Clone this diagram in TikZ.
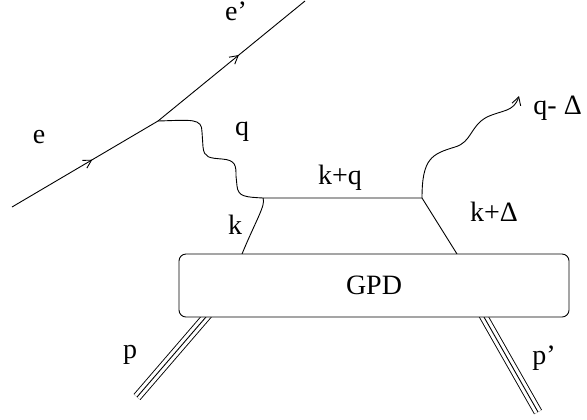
\documentclass[tikz,border=0pt]{standalone}
\usepackage{fontspec}
\setmainfont{Liberation Serif}
\usetikzlibrary{arrows.meta}
\usetikzlibrary{decorations.markings}

\begin{document}
\begin{tikzpicture}[x=0.5pt,y=-0.5pt,line width=0.45pt,line join=round,
  lbl/.style={font=\fontsize{14}{17}\selectfont,inner sep=0pt},
  fermion/.style={postaction={decorate},decoration={markings,mark=at position 0.55 with {\arrow{Straight Barb[length=4pt,width=4.5pt]}}}},
  photon/.style={-{Straight Barb[length=4pt,width=4.5pt]}},
  hadron/.style={double distance=3.6pt},
  gpdbox/.style={draw,fill=white,rounded corners=3.5pt,minimum width=195pt,minimum height=31.5pt,font=\fontsize{14}{17}\selectfont}]
\useasboundingbox (0,0) rectangle (587,419);
% the lepton line, scattered at the vertex
\coordinate (ein) at (12,207); \coordinate (ev) at (158,121); \coordinate (eout) at (305,1);
\draw[fermion] (ein) -- (ev); \draw[fermion] (ev) -- (eout);
% the quark rungs above the blob
\coordinate (qa) at (263,198); \coordinate (qb) at (422,198);
\coordinate (ka) at (242,254); \coordinate (kb) at (457,254);
\draw (ka) .. controls (256,220) and (266,205) .. (qa) -- (qb) -- (kb);
% virtual photon q, a wiggle from the vertex down to the quark
\draw (ev) .. controls (192,120) and (202,118) .. (202,132) -- (203,147) .. controls (204,158) and (210,158) .. (222,159)
  .. controls (236,160) and (236,166) .. (236,176) -- (237,186) .. controls (238,197) and (246,197) .. (qa);
% outgoing real photon q-Delta
\coordinate (gout) at (519,96);
\draw[photon] (qb) .. controls (422,158) and (432,154) .. (455,147) .. controls (472,142) and (470,126) .. (487,117)
  .. controls (502,110) and (514,112) .. (gout);
% proton lines into and out of the blob (drawn first, the box covers their ends)
\coordinate (pin) at (137,397); \coordinate (pa) at (212,310);
\coordinate (pout) at (538,412); \coordinate (pb) at (480,310);
\draw[hadron] (pin) -- (pa); \draw (pin) -- (pa);
\draw[hadron] (pb) -- (pout); \draw (pb) -- (pout);
% the blob
\node[gpdbox] (gpd) at (374,285.5) {GPD};
% labels
\node[lbl] (le) at (39,137) {e};
\node[lbl] (leout) at (236,11) {e'};
\node[lbl] (lq) at (242,132) {q};
\node[lbl] (lkq) at (340,178) {k+q};
\node[lbl,anchor=west] (lqd) at (533,108) {q- Δ};
\node[lbl] (lk) at (235,225) {k};
\node[lbl] (lkd) at (494,212) {k+Δ};
\node[lbl] (lp) at (130,355) {p};
\node[lbl] (lpp) at (544,358) {p'};
\end{tikzpicture}
\end{document}
